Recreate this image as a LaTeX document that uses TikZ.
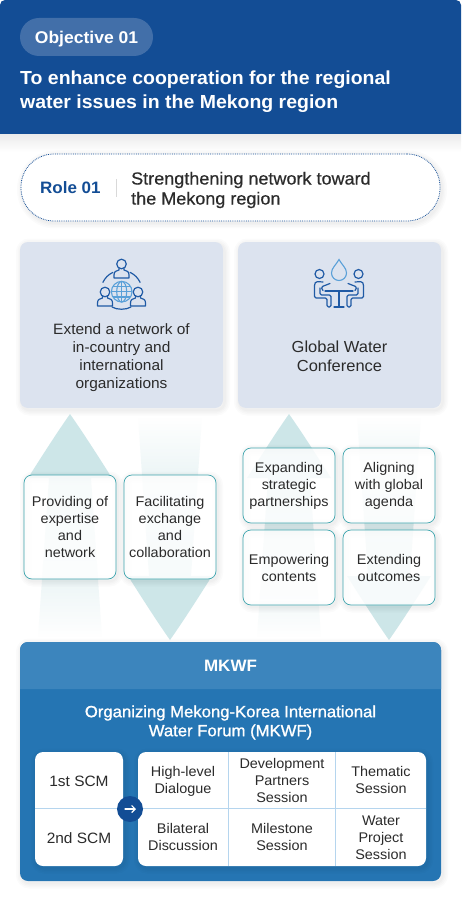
\documentclass[tikz,border=0pt]{standalone}
\usepackage{fontspec}
\setmainfont[FakeStretch=1.03]{Liberation Sans}
\newfontfamily\medfont[FakeStretch=1.03,FakeBold=0.5]{Liberation Sans}
\newfontfamily\headfont[FakeStretch=1.03,FakeBold=1.1]{Liberation Sans}
\usetikzlibrary{arrows.meta,fadings}

\definecolor{headblue}{HTML}{134D95}
\definecolor{pillblue}{HTML}{426FA9}
\definecolor{panelgrey}{HTML}{DCE3EF}
\definecolor{arrowteal}{HTML}{CDE6E8}
\definecolor{boxteal}{HTML}{3FA5AE}
\definecolor{forumblue}{HTML}{2575B3}
\definecolor{forumtop}{HTML}{3C85BD}
\definecolor{gridblue}{HTML}{B5D5EE}
\definecolor{iconblue}{HTML}{1F5AA5}
\definecolor{globeblue}{HTML}{5AA0D8}
\definecolor{inkgrey}{HTML}{2B2B2B}

\tikzfading[name=stemup, top color=transparent!0, bottom color=transparent!100]
\tikzfading[name=stemdown, top color=transparent!100, bottom color=transparent!0]

\tikzset{
  shadowlayer/.style={preaction={draw=black,solid,fill=none,draw opacity=.016,line width=#1,transform canvas={xshift=1.5pt,yshift=-2pt}}},
  softshadow/.style={shadowlayer=11pt,shadowlayer=8pt,shadowlayer=5pt,shadowlayer=2.5pt},
  panel/.style={fill=panelgrey,rounded corners=8,minimum width=203,minimum height=166,inner sep=0,softshadow},
  flowbox/.style={draw=boxteal,line width=.7pt,fill=white,fill opacity=.84,text opacity=1,rounded corners=8,minimum width=92,inner sep=0,align=center,text=inkgrey,font=\fontsize{14}{17}\selectfont,softshadow},
  whitecard/.style={fill=white,rounded corners=8,inner sep=0,softshadow},
  celltext/.style={align=center,text=inkgrey,font=\fontsize{14}{17}\selectfont},
  paneltext/.style={align=center,text=inkgrey,font=\fontsize{15}{18}\selectfont},
  gridline/.style={draw=gridblue,line width=.7pt},
  iconline/.style={draw=iconblue,line width=1.2pt,line join=round,line cap=round},
  globeline/.style={draw=globeblue,line width=1.1pt}
}

% #1 centre x, #2 apex y, #3 direction (1 points up, -1 points down), #4 fading
\newcommand{\flowarrow}[4]{
  \fill[arrowteal] (#1,#2) .. controls ({#1-14},{#2+#3*20}) and ({#1-28},{#2+#3*42}) .. ({#1-42},{#2+#3*64})
    -- ({#1+42},{#2+#3*64}) .. controls ({#1+28},{#2+#3*42}) and ({#1+14},{#2+#3*20}) .. (#1,#2) -- cycle;
  \fill[arrowteal,path fading=#4] ({#1-21},{#2+#3*64}) -- ({#1+21},{#2+#3*64}) -- ({#1+32},{#2+#3*223}) -- ({#1-32},{#2+#3*223}) -- cycle;
}

% #1 head x, #2 head y, #3 half width of the body
\newcommand{\iconperson}[3]{
  \draw[iconline] (#1,#2) circle (4.8);
  \draw[iconline] ({#1-2.5},{#2+4.5}) -- ({#1-2.5},{#2+6}) .. controls ({#1-5},{#2+7}) and ({#1-#3},{#2+7}) .. ({#1-#3},{#2+11})
    -- ({#1-#3},{#2+14}) -- ({#1+#3},{#2+14}) -- ({#1+#3},{#2+11}) .. controls ({#1+#3},{#2+7}) and ({#1+5},{#2+7}) .. ({#1+2.5},{#2+6}) -- ({#1+2.5},{#2+4.5});
}

\begin{document}
\begin{tikzpicture}[x=1pt,y=-1pt,>=Stealth]
  \useasboundingbox (0,0) rectangle (461,901);
  \fill[white] (0,0) rectangle (461,901);

  % header
  \shade[top color=black!8,bottom color=white] (0,134) rectangle (461,152);
  \fill[headblue] (0,134) {[rounded corners=5] -- (0,0) -- (461,0)} -- (461,134) -- cycle;
  \node[fill=pillblue,rounded corners=19,minimum width=133,minimum height=38,inner sep=0,text height=13,text depth=0,text=white,font=\fontsize{17}{21}\bfseries\selectfont] (objective) at (86.5,37) {Objective 01};
  \node[anchor=west,align=left,inner sep=0,text=white,font=\fontsize{18.9}{24}\bfseries\selectfont] (goal) at (20,92) {To enhance cooperation for the regional\\water issues in the Mekong region};

  % role
  \node[draw=headblue,densely dotted,line width=.8pt,fill=white,rounded corners=33,minimum width=419,minimum height=67,inner sep=0,softshadow] (rolepill) at (230.5,187.5) {};
  \node[anchor=west,inner sep=0,text=headblue,font=\fontsize{16.5}{20}\bfseries\selectfont] (rolename) at (40,188) {Role 01};
  \node[anchor=west,align=left,inner sep=0,text=inkgrey,font=\fontsize{17.5}{20}\medfont] (roletext) at (131,190) {Strengthening network toward\\the Mekong region};
  \coordinate (sepa) at (116.5,179);
  \coordinate (sepb) at (116.5,197);
  \draw[black!15,line width=.7pt] (sepa) -- (sepb);

  % panels
  \node[panel] (panelleft) at (121.5,325) {};
  \node[panel] (panelright) at (339.5,325) {};
  \node[paneltext] (netlabel) at (121.5,358) {Extend a network of\\in-country and\\international\\organizations};
  \node[paneltext,font=\fontsize{16}{19}\selectfont] (conflabel) at (339.5,356) {Global Water\\Conference};

  % network icon
  \draw[iconline] (121.5,291) ++(205:20.5) arc[start angle=205,end angle=245,radius=20.5];
  \draw[iconline] (121.5,291) ++(335:20.5) arc[start angle=335,end angle=295,radius=20.5];
  \draw[iconline] (112,307) .. controls (117,310) and (126,310) .. (131,307);
  \iconperson{121.5}{264}{7.5}
  \iconperson{105}{292}{7.5}
  \iconperson{138}{292}{7.5}
  \draw[globeline] (121.7,291.7) circle (10.3);
  \draw[globeline] (121.7,291.7) ellipse (5 and 10.3);
  \draw[globeline] (121.7,281.4) -- (121.7,302);
  \draw[globeline] (111.4,291.7) -- (132,291.7);
  \draw[globeline] (113,286.5) -- (130.4,286.5);
  \draw[globeline] (113,297) -- (130.4,297);

  % meeting icon
  \draw[globeline] (339,259.5) .. controls (336,265) and (331.5,268) .. (331.5,273) arc[start angle=180,end angle=0,radius=7.5] .. controls (346.5,268) and (342,265) .. (339,259.5) -- cycle;
  \draw[iconline] (319.5,274) circle (4.5);
  \draw[iconline] (358.5,274) circle (4.5);
  \draw[iconline] (325,291) -- (353,291);
  \draw[iconline] (339,291) -- (339,307);
  \draw[iconline] (334,307) -- (344,307);
  \draw[iconline,rounded corners=1.5] (323,290.5) -- (321,287) -- (330,283.5) (323,282) -- (316,281.5) -- (314.5,284) -- (314.5,298) -- (327,298) -- (327,307) -- (331,307) -- (331,295) -- (320,295) -- (320,288);
  \draw[iconline,rounded corners=1.5] (355,290.5) -- (357,287) -- (348,283.5) (355,282) -- (362,281.5) -- (363.5,284) -- (363.5,298) -- (351,298) -- (351,307) -- (347,307) -- (347,295) -- (358,295) -- (358,288);

  % flow arrows
  \flowarrow{70}{414}{1}{stemup}
  \flowarrow{170}{640}{-1}{stemdown}
  \flowarrow{289}{414}{1}{stemup}
  \flowarrow{389}{640}{-1}{stemdown}

  % flow boxes
  \node[flowbox,minimum height=104] (expertise) at (70,527) {Providing of\\expertise\\and\\network};
  \node[flowbox,minimum height=104] (exchange) at (170,527) {Facilitating\\exchange\\and\\collaboration};
  \node[flowbox,minimum height=75] (partners) at (289,485.5) {Expanding\\strategic\\partnerships};
  \node[flowbox,minimum height=75] (agenda) at (389,485.5) {Aligning\\with global\\agenda};
  \node[flowbox,minimum height=75] (contents) at (289,567.5) {Empowering\\contents};
  \node[flowbox,minimum height=75] (outcomes) at (389,567.5) {Extending\\outcomes};

  % forum
  \node[fill=forumblue,rounded corners=8,minimum width=421,minimum height=239,inner sep=0,softshadow] (forum) at (230.5,761.5) {};
  \fill[forumtop] (20,689) {[rounded corners=8] -- (20,642) -- (441,642)} -- (441,689) -- cycle;
  \node[text=white,font=\fontsize{16.5}{20}\bfseries\selectfont] (forumname) at (230.5,666) {MKWF};
  \node[align=center,text=white,font=\fontsize{16.2}{19}\headfont] (forumtitle) at (230.5,722.5) {Organizing Mekong-Korea International\\Water Forum (MKWF)};

  \node[whitecard,minimum width=88,minimum height=114] (scmcard) at (79,809) {};
  \node[whitecard,minimum width=288,minimum height=114] (sessioncard) at (282,809) {};
  \coordinate (rowa) at (35,808.5);
  \coordinate (rowb) at (426,808.5);
  \coordinate (cola) at (228.5,752);
  \coordinate (colb) at (228.5,866);
  \coordinate (colc) at (335.5,752);
  \coordinate (cold) at (335.5,866);
  \draw[gridline] (rowa) -- (rowb);
  \draw[gridline] (cola) -- (colb);
  \draw[gridline] (colc) -- (cold);

  \node[celltext,font=\fontsize{15}{18}\selectfont] (scmone) at (79,781) {1st SCM};
  \node[celltext,font=\fontsize{15}{18}\selectfont] (scmtwo) at (79,838) {2nd SCM};
  \node[celltext] (dialogue) at (183,781) {High-level\\Dialogue};
  \node[celltext] (devpartners) at (282,780) {Development\\Partners\\Session};
  \node[celltext] (thematic) at (381,780) {Thematic\\Session};
  \node[celltext] (bilateral) at (183,837) {Bilateral\\Discussion};
  \node[celltext] (milestone) at (282,837) {Milestone\\Session};
  \node[celltext] (waterproject) at (381,838) {Water\\Project\\Session};

  \node[circle,fill=headblue,minimum size=26,inner sep=0] (stepcircle) at (130,809) {};
  \coordinate (arrowa) at (125,809);
  \coordinate (arrowb) at (136,809);
  \draw[white,line width=1.2pt,line cap=round,-{Straight Barb[length=3.5pt,width=7pt]}] (arrowa) -- (arrowb);
\end{tikzpicture}
\end{document}
